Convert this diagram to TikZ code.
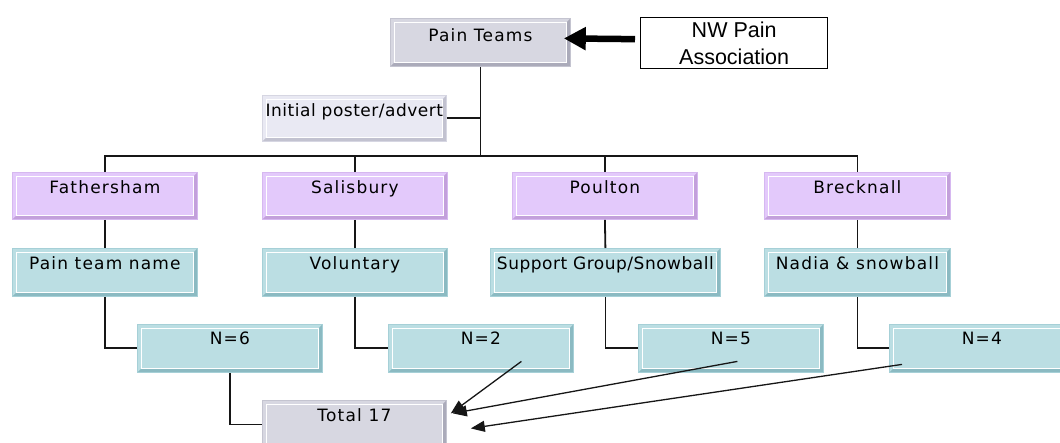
\documentclass[tikz,border=0pt]{standalone}
\usepackage{fontspec}
\setmainfont{DejaVu Sans}
\newfontfamily\boxfont[LetterSpace=7]{DejaVu Sans}
\newfontfamily\tightfont[LetterSpace=3]{DejaVu Sans}
\newfontfamily\arialfont{Liberation Sans}
\usetikzlibrary{arrows.meta,calc}

\definecolor{pinkfill}{HTML}{E3C9FB}
\definecolor{pinkedge}{HTML}{D6B8F0}
\definecolor{pinkdark}{HTML}{C3A0DB}
\definecolor{cyanfill}{HTML}{BBDEE3}
\definecolor{cyanedge}{HTML}{A6D0D7}
\definecolor{cyandark}{HTML}{8BBAC2}
\definecolor{greyfill}{HTML}{D7D7E1}
\definecolor{greyedge}{HTML}{C4C4D0}
\definecolor{greydark}{HTML}{ABABBA}
\definecolor{palefill}{HTML}{E9E9F3}
\definecolor{paleedge}{HTML}{D6D6E2}
\definecolor{paledark}{HTML}{C2C2D0}
\definecolor{linecol}{HTML}{161616}

\tikzset{
  bevelbox/.style n args={3}{
    anchor=north west, rectangle, fill=#1, draw=#2, line width=0.8pt,
    inner sep=0pt, minimum height=0pt,
    font=\boxfont\fontsize{17}{20}\selectfont,
    path picture={
      \path (path picture bounding box.south west) coordinate (bvsw)
            (path picture bounding box.south east) coordinate (bvse)
            (path picture bounding box.north east) coordinate (bvne);
      \fill[#3] (bvsw) -- (bvse) -- (bvne) -- ([xshift=-4pt,yshift=-4pt]bvne)
        -- ([xshift=-4pt,yshift=4pt]bvse) -- ([xshift=4pt,yshift=4pt]bvsw) -- cycle;
      \draw[white, line width=1pt] ([xshift=4pt,yshift=4pt]bvsw)
        rectangle ([xshift=-4pt,yshift=-4pt]bvne);
    }},
  sitebox/.style={bevelbox={pinkfill}{pinkedge}{pinkdark},
    text height=21pt, text depth=26pt},
  methodbox/.style={bevelbox={cyanfill}{cyanedge}{cyandark},
    text height=21pt, text depth=27pt},
  countbox/.style={bevelbox={cyanfill}{cyanedge}{cyandark},
    text height=20pt, text depth=28pt, minimum width=185pt},
  greybox/.style={bevelbox={greyfill}{greyedge}{greydark}},
  palebox/.style={bevelbox={palefill}{paleedge}{paledark}},
  link/.style={draw=linecol, line width=1.8pt},
  feed/.style={draw=linecol, line width=1.3pt,
    -{Triangle[length=14pt,width=11pt]}},
  bigarrow/.style={draw=black, line width=6.5pt,
    -{Triangle[length=22pt,width=22pt]}}
}

\begin{document}
\begin{tikzpicture}[x=1pt,y=-1pt]
  \useasboundingbox[fill=white] (0,0) rectangle (1060,443);

  % top of the tree
  \node[greybox, minimum width=180pt, text height=23pt, text depth=25pt]
    (pt) at (390,18) {Pain Teams};
  \node[anchor=north west, draw=black, line width=1.3pt, inner sep=0pt,
        minimum width=187pt, minimum height=51pt, align=center,
        font=\arialfont\fontsize{21.5}{27.5}\selectfont]
    (nw) at (640,17) {NW Pain\\Association};
  \node[palebox, minimum width=184pt, text height=21.5pt, text depth=24.5pt,
        font=\tightfont\fontsize{17}{20}\selectfont]
    (init) at (262,95) {Initial poster/advert};

  % sites
  \node[sitebox, minimum width=185pt] (fat) at (12,172)  {Fathersham};
  \node[sitebox, minimum width=185pt] (sal) at (262,172) {Salisbury};
  \node[sitebox, minimum width=185pt] (pou) at (512,172) {Poulton};
  \node[sitebox, minimum width=186pt] (bre) at (764,172) {Brecknall};

  % recruitment routes
  \node[methodbox, minimum width=185pt] (ptn) at (12,248)  {Pain team name};
  \node[methodbox, minimum width=185pt] (vol) at (262,248) {Voluntary};
  \node[methodbox, minimum width=230pt,
        font=\tightfont\fontsize{17}{20}\selectfont]
    (sgs) at (490,248) {Support Group/Snowball};
  \node[methodbox, minimum width=186pt] (nad) at (764,248) {Nadia \& snowball};

  % counts
  \node[countbox] (n6) at (137,324) {N=6};
  \node[countbox] (n2) at (388,324) {N=2};
  \node[countbox] (n5) at (638,324) {N=5};
  \node[countbox] (n4) at (889,324) {N=4};

  % total
  \node[greybox, minimum width=184pt, text height=21pt, text depth=27pt]
    (tot) at (262,400) {Total 17};

  % connectors
  \path (pt.south) ++(0,89) coordinate (hub);
  \draw[link] (pt.south) -- (hub);
  \draw[link] (init.east) -- (init.east -| hub);
  \draw[link] (fat.north) |- (hub);
  \draw[link] (bre.north) |- (hub);
  \draw[link] (sal.north) -- (sal.north |- hub);
  \draw[link] (pou.north) -- (pou.north |- hub);

  \draw[link] (fat.south) -- (ptn.north);
  \draw[link] (sal.south) -- (vol.north);
  \draw[link] (pou.south) -- (sgs.north);
  \draw[link] (bre.south) -- (nad.north);

  \draw[link] (ptn.south) |- (n6.west);
  \draw[link] (vol.south) |- (n2.west);
  \draw[link] (sgs.south) |- (n5.west);
  \draw[link] (nad.south) |- (n4.west);

  \draw[link] (n6.south) |- (tot.west);

  \draw[feed] ([shift={(40.5,13)}]n2.center) -- ([shift={(4,-11)}]tot.east);
  \draw[feed] ([shift={(6.5,13)}]n5.center) -- ([shift={(6,-11)}]tot.east);
  \draw[feed] ([shift={(13,16)}]n4.west) -- ([shift={(24,4)}]tot.east);

  \draw[bigarrow] ([shift={(-5,-4)}]nw.west) -- ([shift={(-7,-4)}]pt.east);
\end{tikzpicture}
\end{document}
